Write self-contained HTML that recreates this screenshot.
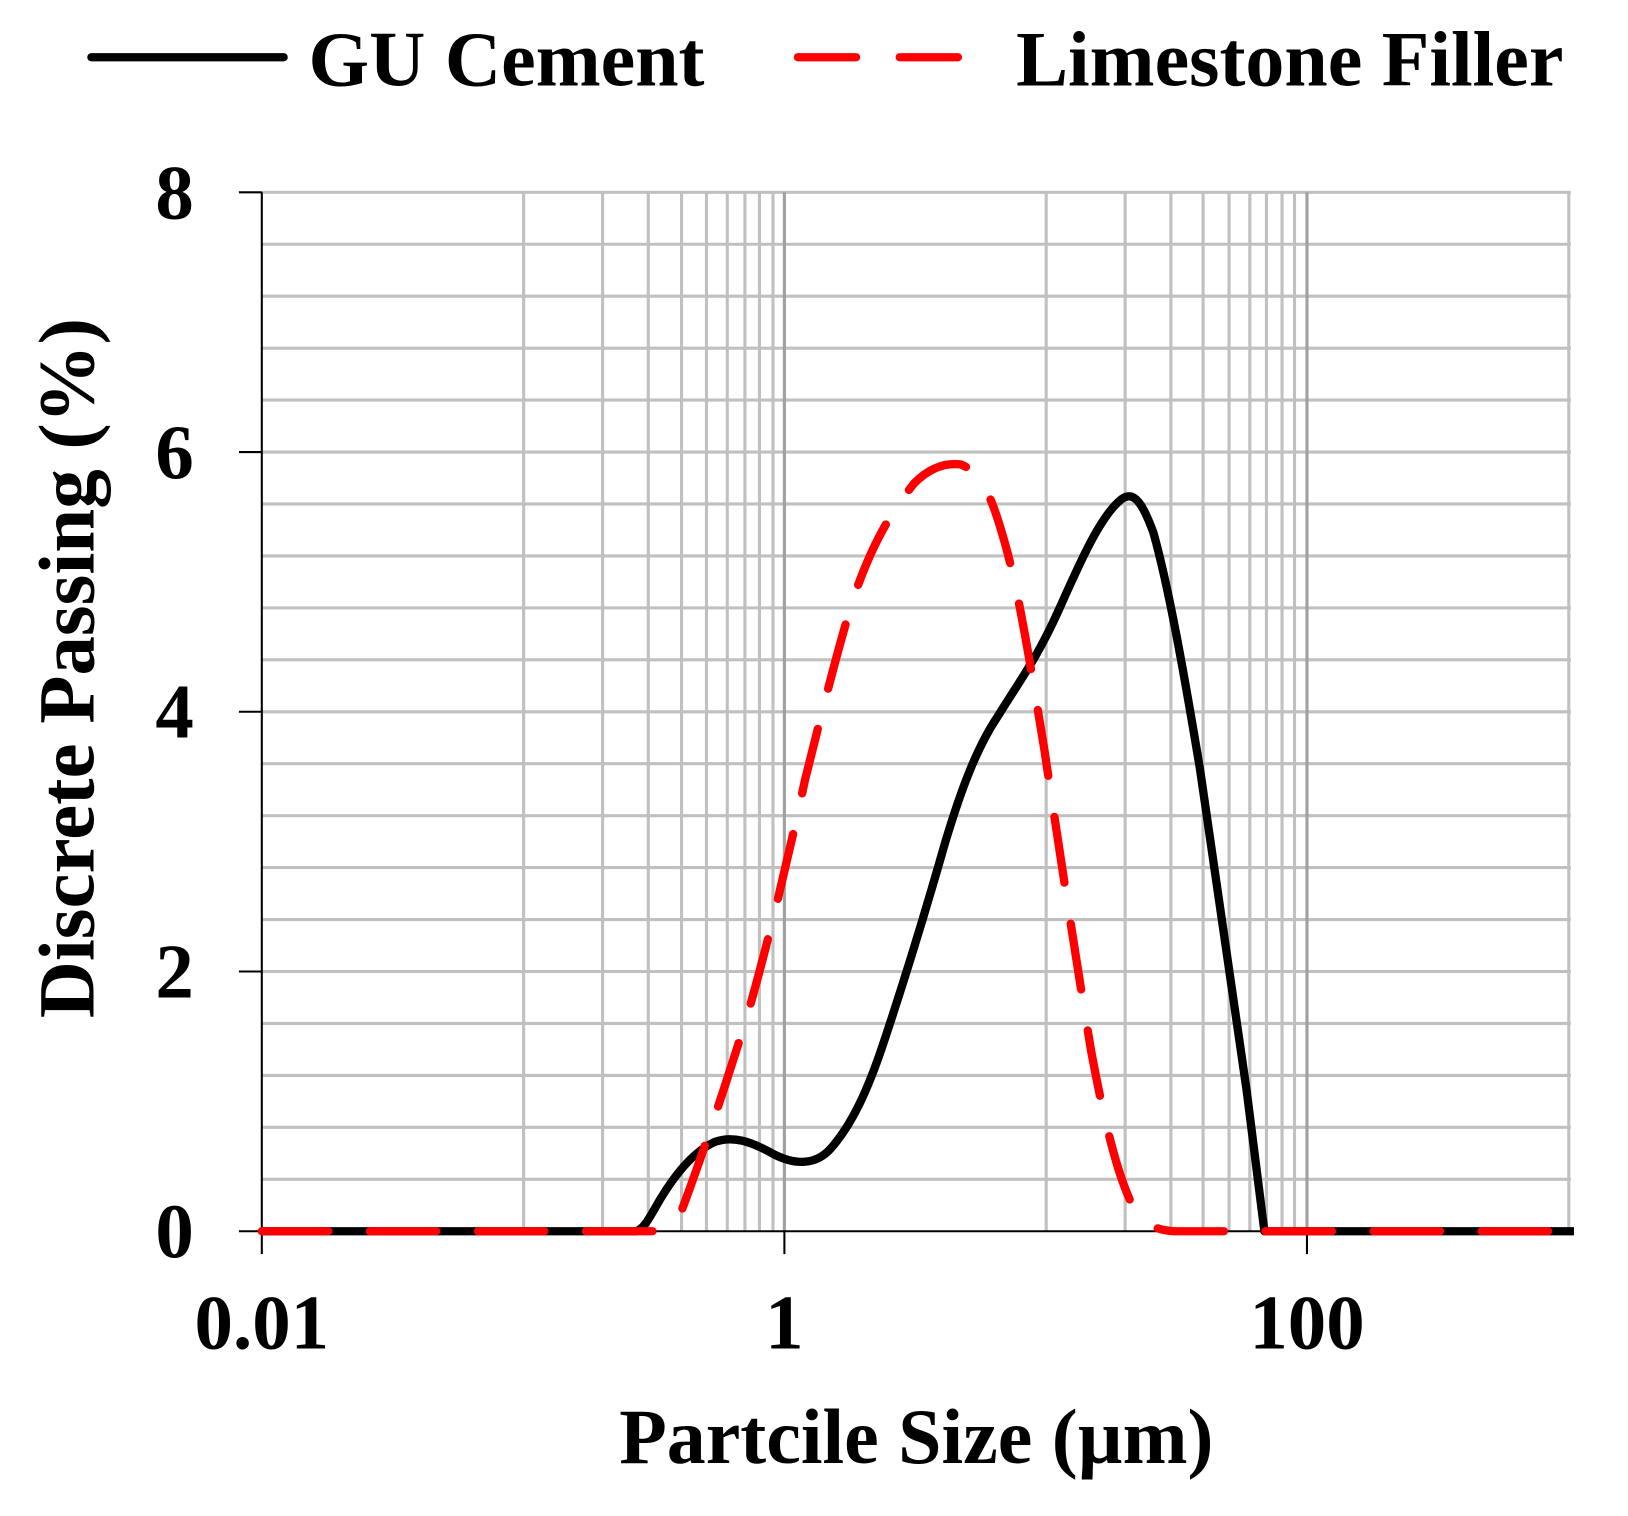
<!DOCTYPE html>
<html><head><meta charset="utf-8"><style>html,body{margin:0;padding:0;background:#fff}svg{display:block}</style></head>
<body>
<svg width="1628" height="1516" viewBox="0 0 1567 1459" xmlns="http://www.w3.org/2000/svg" font-family="'Liberation Serif', serif" font-weight="bold">
<g stroke="#c0c0c0" stroke-width="3">
<line x1="252" y1="235" x2="1512" y2="235"/><line x1="252" y1="285" x2="1512" y2="285"/><line x1="252" y1="335" x2="1512" y2="335"/><line x1="252" y1="385" x2="1512" y2="385"/><line x1="252" y1="435" x2="1512" y2="435"/><line x1="252" y1="485" x2="1512" y2="485"/><line x1="252" y1="535" x2="1512" y2="535"/><line x1="252" y1="585" x2="1512" y2="585"/><line x1="252" y1="635" x2="1512" y2="635"/><line x1="252" y1="685" x2="1512" y2="685"/><line x1="252" y1="735" x2="1512" y2="735"/><line x1="252" y1="785" x2="1512" y2="785"/><line x1="252" y1="835" x2="1512" y2="835"/><line x1="252" y1="885" x2="1512" y2="885"/><line x1="252" y1="935" x2="1512" y2="935"/><line x1="252" y1="985" x2="1512" y2="985"/><line x1="252" y1="1035" x2="1512" y2="1035"/><line x1="252" y1="1085" x2="1512" y2="1085"/><line x1="252" y1="1135" x2="1512" y2="1135"/><line x1="252" y1="185" x2="1512" y2="185"/>
<line x1="504" y1="185" x2="504" y2="1185"/><line x1="580" y1="185" x2="580" y2="1185"/><line x1="624" y1="185" x2="624" y2="1185"/><line x1="656" y1="185" x2="656" y2="1185"/><line x1="680" y1="185" x2="680" y2="1185"/><line x1="700" y1="185" x2="700" y2="1185"/><line x1="717" y1="185" x2="717" y2="1185"/><line x1="731" y1="185" x2="731" y2="1185"/><line x1="744" y1="185" x2="744" y2="1185"/>
<line x1="1007" y1="185" x2="1007" y2="1185"/>
<line x1="1083" y1="185" x2="1083" y2="1185"/><line x1="1127" y1="185" x2="1127" y2="1185"/><line x1="1158" y1="185" x2="1158" y2="1185"/><line x1="1183" y1="185" x2="1183" y2="1185"/><line x1="1203" y1="185" x2="1203" y2="1185"/><line x1="1219" y1="185" x2="1219" y2="1185"/><line x1="1234" y1="185" x2="1234" y2="1185"/><line x1="1246" y1="185" x2="1246" y2="1185"/>
<line x1="1510" y1="185" x2="1510" y2="1185"/>
</g>
<g stroke="#a0a0a0" stroke-width="3"><line x1="755" y1="185" x2="755" y2="1185"/><line x1="1258" y1="185" x2="1258" y2="1185"/></g>
<g stroke="#000" stroke-width="2">
<line x1="252" y1="185" x2="252" y2="1185"/><line x1="252" y1="1185" x2="1512" y2="1185"/>
<line x1="230" y1="185" x2="252" y2="185"/><line x1="230" y1="435" x2="252" y2="435"/><line x1="230" y1="685" x2="252" y2="685"/><line x1="230" y1="935" x2="252" y2="935"/><line x1="230" y1="1185" x2="252" y2="1185"/>
<line x1="252" y1="1185" x2="252" y2="1207"/><line x1="755" y1="1185" x2="755" y2="1207"/><line x1="1258" y1="1185" x2="1258" y2="1207"/>
</g>
<path fill="none" stroke="#000" stroke-width="8" stroke-linejoin="round" d="M252,1185 L612,1185 C620,1183 625,1172 635,1155 C650,1130 668,1108 688,1099 C705,1093 722,1098 745,1111 C765,1121 785,1122 800,1105 C820,1082 835,1050 850,1005 C870,945 890,880 910,810 C925,760 940,720 960,690 C985,650 1000,630 1020,585 C1040,540 1060,495 1080,480 C1092,472 1100,485 1110,512 C1125,565 1140,650 1155,740 C1170,840 1185,940 1200,1050 L1217,1185 L1515,1185"/>
<path fill="none" stroke="#ff0000" stroke-width="8" stroke-linecap="round" stroke-linejoin="round" stroke-dasharray="64,40" d="M252,1185 L640,1185 L655,1168 C675,1115 700,1040 720,975 C740,905 760,820 775,750 C790,690 805,630 820,580 C840,520 860,490 880,465 C895,450 910,445 925,447 C945,455 955,480 965,515 C980,565 990,630 1005,720 C1020,820 1035,920 1050,1010 C1062,1075 1075,1130 1090,1160 C1100,1178 1112,1184 1130,1185 L1515,1185"/>
<line x1="88" y1="55" x2="273" y2="55" stroke="#000" stroke-width="8" stroke-linecap="round"/>
<line x1="768" y1="55" x2="938" y2="55" stroke="#ff0000" stroke-width="8" stroke-linecap="round" stroke-dasharray="56,42"/>
<g font-size="75" fill="#000">
<text x="297" y="82">GU Cement</text>
<text x="978" y="82">Limestone Filler</text>
</g>
<g font-size="74" fill="#000" text-anchor="middle">
<text x="168" y="210">8</text><text x="168" y="460">6</text><text x="168" y="710">4</text><text x="168" y="960">2</text><text x="168" y="1210">0</text>
<text x="252" y="1298">0.01</text><text x="755" y="1298">1</text><text x="1258" y="1298">100</text>
</g>
<text x="882" y="1408" font-size="75" text-anchor="middle">Partcile Size (µm)</text>
<text transform="translate(90,643) rotate(-90)" font-size="76" text-anchor="middle">Discrete Passing (%)</text>
</svg>
</body></html>
